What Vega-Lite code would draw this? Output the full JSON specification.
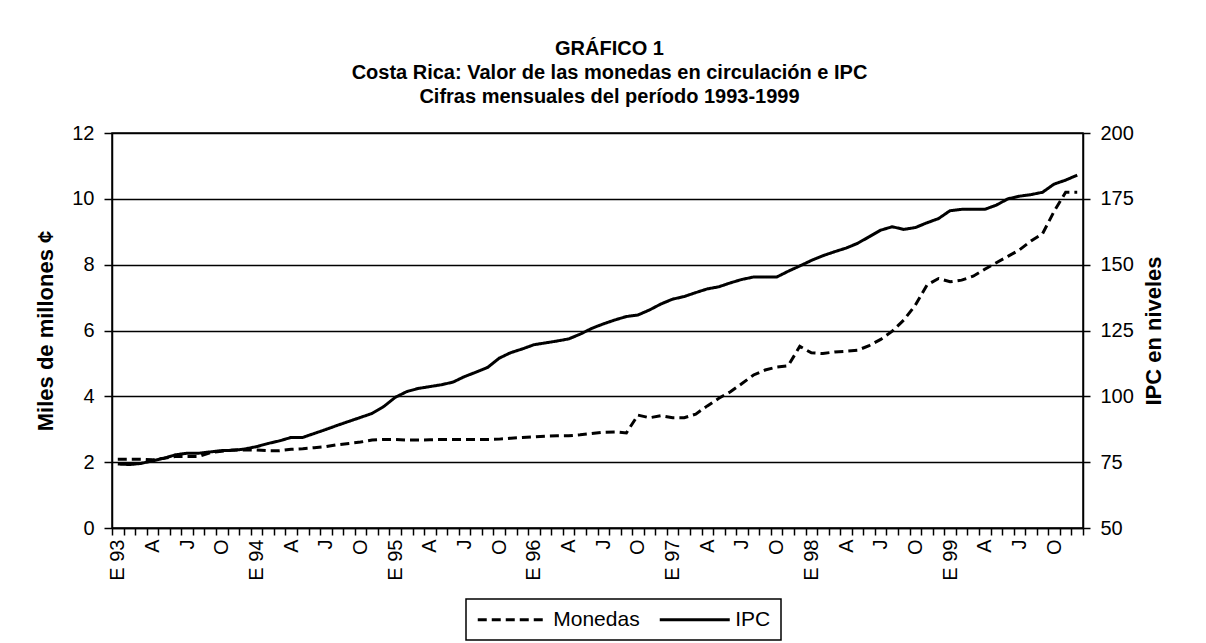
{
  "$schema": "https://vega.github.io/schema/vega-lite/v6.json",
  "autosize": {"type": "none"},
  "padding": {"left": 112, "top": 133, "right": 123, "bottom": 115},
  "width": 971,
  "height": 395,
  "background": "white",
  "title": {
    "text": ["GRÁFICO 1", "Costa Rica: Valor de las monedas en circulación e IPC", "Cifras mensuales del período 1993-1999"],
    "font": "Liberation Sans",
    "fontSize": 20,
    "fontWeight": "bold",
    "color": "black",
    "lineHeight": 24,
    "anchor": "middle",
    "dx": 12,
    "offset": 16
  },
  "data": {
    "values": [
      {"mes": "1993-01", "monedas": 2.09, "ipc": 74.3},
      {"mes": "1993-02", "monedas": 2.09, "ipc": 74.1},
      {"mes": "1993-03", "monedas": 2.09, "ipc": 74.5},
      {"mes": "1993-04", "monedas": 2.07, "ipc": 75.5},
      {"mes": "1993-05", "monedas": 2.12, "ipc": 76.5},
      {"mes": "1993-06", "monedas": 2.17, "ipc": 77.8},
      {"mes": "1993-07", "monedas": 2.17, "ipc": 78.4},
      {"mes": "1993-08", "monedas": 2.17, "ipc": 78.4},
      {"mes": "1993-09", "monedas": 2.29, "ipc": 78.9},
      {"mes": "1993-10", "monedas": 2.33, "ipc": 79.4},
      {"mes": "1993-11", "monedas": 2.37, "ipc": 79.5},
      {"mes": "1993-12", "monedas": 2.37, "ipc": 80.0},
      {"mes": "1994-01", "monedas": 2.37, "ipc": 80.9},
      {"mes": "1994-02", "monedas": 2.35, "ipc": 82.1},
      {"mes": "1994-03", "monedas": 2.35, "ipc": 83.1},
      {"mes": "1994-04", "monedas": 2.39, "ipc": 84.4},
      {"mes": "1994-05", "monedas": 2.41, "ipc": 84.4},
      {"mes": "1994-06", "monedas": 2.44, "ipc": 85.9},
      {"mes": "1994-07", "monedas": 2.47, "ipc": 87.4},
      {"mes": "1994-08", "monedas": 2.53, "ipc": 89.0},
      {"mes": "1994-09", "monedas": 2.57, "ipc": 90.5},
      {"mes": "1994-10", "monedas": 2.61, "ipc": 92.0},
      {"mes": "1994-11", "monedas": 2.67, "ipc": 93.5},
      {"mes": "1994-12", "monedas": 2.69, "ipc": 96.1},
      {"mes": "1995-01", "monedas": 2.69, "ipc": 99.6},
      {"mes": "1995-02", "monedas": 2.67, "ipc": 101.8},
      {"mes": "1995-03", "monedas": 2.67, "ipc": 103.0},
      {"mes": "1995-04", "monedas": 2.68, "ipc": 103.7},
      {"mes": "1995-05", "monedas": 2.69, "ipc": 104.4},
      {"mes": "1995-06", "monedas": 2.69, "ipc": 105.4},
      {"mes": "1995-07", "monedas": 2.69, "ipc": 107.5},
      {"mes": "1995-08", "monedas": 2.69, "ipc": 109.2},
      {"mes": "1995-09", "monedas": 2.69, "ipc": 111.0},
      {"mes": "1995-10", "monedas": 2.70, "ipc": 114.5},
      {"mes": "1995-11", "monedas": 2.73, "ipc": 116.6},
      {"mes": "1995-12", "monedas": 2.75, "ipc": 118.0},
      {"mes": "1996-01", "monedas": 2.77, "ipc": 119.6},
      {"mes": "1996-02", "monedas": 2.79, "ipc": 120.3},
      {"mes": "1996-03", "monedas": 2.80, "ipc": 121.0},
      {"mes": "1996-04", "monedas": 2.80, "ipc": 121.8},
      {"mes": "1996-05", "monedas": 2.83, "ipc": 123.6},
      {"mes": "1996-06", "monedas": 2.87, "ipc": 125.8},
      {"mes": "1996-07", "monedas": 2.91, "ipc": 127.5},
      {"mes": "1996-08", "monedas": 2.92, "ipc": 129.0},
      {"mes": "1996-09", "monedas": 2.89, "ipc": 130.3},
      {"mes": "1996-10", "monedas": 3.43, "ipc": 130.9},
      {"mes": "1996-11", "monedas": 3.35, "ipc": 132.8},
      {"mes": "1996-12", "monedas": 3.41, "ipc": 135.1},
      {"mes": "1997-01", "monedas": 3.35, "ipc": 136.9},
      {"mes": "1997-02", "monedas": 3.35, "ipc": 137.9},
      {"mes": "1997-03", "monedas": 3.46, "ipc": 139.4},
      {"mes": "1997-04", "monedas": 3.71, "ipc": 140.8},
      {"mes": "1997-05", "monedas": 3.94, "ipc": 141.6},
      {"mes": "1997-06", "monedas": 4.14, "ipc": 143.1},
      {"mes": "1997-07", "monedas": 4.39, "ipc": 144.4},
      {"mes": "1997-08", "monedas": 4.65, "ipc": 145.3},
      {"mes": "1997-09", "monedas": 4.80, "ipc": 145.3},
      {"mes": "1997-10", "monedas": 4.89, "ipc": 145.3},
      {"mes": "1997-11", "monedas": 4.93, "ipc": 147.5},
      {"mes": "1997-12", "monedas": 5.52, "ipc": 149.5},
      {"mes": "1998-01", "monedas": 5.32, "ipc": 151.6},
      {"mes": "1998-02", "monedas": 5.30, "ipc": 153.4},
      {"mes": "1998-03", "monedas": 5.35, "ipc": 154.9},
      {"mes": "1998-04", "monedas": 5.37, "ipc": 156.3},
      {"mes": "1998-05", "monedas": 5.40, "ipc": 158.1},
      {"mes": "1998-06", "monedas": 5.54, "ipc": 160.6},
      {"mes": "1998-07", "monedas": 5.73, "ipc": 163.1},
      {"mes": "1998-08", "monedas": 5.98, "ipc": 164.4},
      {"mes": "1998-09", "monedas": 6.32, "ipc": 163.4},
      {"mes": "1998-10", "monedas": 6.77, "ipc": 164.1},
      {"mes": "1998-11", "monedas": 7.38, "ipc": 165.9},
      {"mes": "1998-12", "monedas": 7.58, "ipc": 167.5},
      {"mes": "1999-01", "monedas": 7.48, "ipc": 170.5},
      {"mes": "1999-02", "monedas": 7.53, "ipc": 171.0},
      {"mes": "1999-03", "monedas": 7.65, "ipc": 171.0},
      {"mes": "1999-04", "monedas": 7.86, "ipc": 171.0},
      {"mes": "1999-05", "monedas": 8.06, "ipc": 172.6},
      {"mes": "1999-06", "monedas": 8.25, "ipc": 175.0},
      {"mes": "1999-07", "monedas": 8.45, "ipc": 176.0},
      {"mes": "1999-08", "monedas": 8.72, "ipc": 176.6},
      {"mes": "1999-09", "monedas": 8.94, "ipc": 177.5},
      {"mes": "1999-10", "monedas": 9.62, "ipc": 180.6},
      {"mes": "1999-11", "monedas": 10.2, "ipc": 182.1},
      {"mes": "1999-12", "monedas": 10.2, "ipc": 184.0}
    ]
  },
  "encoding": {
    "x": {
      "field": "mes",
      "type": "ordinal",
      "bandPosition": 0.5,
      "scale": {"type": "band", "paddingInner": 0, "paddingOuter": 0},
      "axis": {
        "title": null,
        "tickBand": "extent",
        "labelAngle": -90,
        "labelAlign": "right",
        "labelBaseline": "middle",
        "labelOverlap": false,
        "labelPadding": 4,
        "tickSize": 7,
        "labelExpr": "substring(datum.value,5,7) == '01' ? 'E ' + substring(datum.value,2,4) : substring(datum.value,5,7) == '04' ? 'A' : substring(datum.value,5,7) == '07' ? 'J' : substring(datum.value,5,7) == '10' ? 'O' : ''"
      }
    }
  },
  "layer": [
    {
      "mark": {"type": "line", "color": "black", "strokeWidth": 3},
      "encoding": {
        "y": {
          "field": "monedas",
          "type": "quantitative",
          "scale": {"domain": [0, 12]},
          "axis": {
            "title": "Miles de millones ¢",
            "values": [0, 2, 4, 6, 8, 10, 12],
            "grid": true,
            "titlePadding": 14,
            "labelPadding": 10,
            "tickSize": 8
          }
        },
        "strokeDash": {
          "datum": "Monedas",
          "scale": {"domain": ["Monedas", "IPC"], "range": [[9, 5], [1, 0]]},
          "legend": {
            "title": null,
            "orient": "none",
            "legendX": 354,
            "legendY": 466,
            "direction": "horizontal",
            "symbolType": "M-4,0H4",
            "symbolSize": 306.25,
            "symbolOffset": 26.25,
            "symbolStrokeWidth": 3,
            "symbolStrokeColor": "black",
            "symbolFillColor": "transparent",
            "labelOffset": 30,
            "columnPadding": 13,
            "padding": 10,
            "strokeColor": "black",
            "labelFontSize": 21,
            "labelFont": "Liberation Sans",
            "labelColor": "black"
          }
        }
      }
    },
    {
      "mark": {"type": "line", "color": "black", "strokeWidth": 3},
      "encoding": {
        "y": {
          "field": "ipc",
          "type": "quantitative",
          "scale": {"domain": [50, 200]},
          "axis": {
            "title": "IPC en niveles",
            "orient": "right",
            "values": [50, 75, 100, 125, 150, 175, 200],
            "grid": false,
            "titleAngle": -90,
            "titleBaseline": "top",
            "titlePadding": 10,
            "labelPadding": 10,
            "tickSize": 7
          }
        },
        "strokeDash": {"datum": "IPC"}
      }
    }
  ],
  "resolve": {"scale": {"y": "independent"}},
  "config": {
    "font": "Liberation Sans",
    "view": {"stroke": "black", "strokeWidth": 1.5},
    "legend": {"strokeWidth": 1.5},
    "axis": {
      "domainColor": "black",
      "domainWidth": 1.5,
      "tickColor": "black",
      "tickWidth": 1.5,
      "gridColor": "black",
      "gridWidth": 1.5,
      "labelColor": "black",
      "labelFont": "Liberation Sans",
      "labelFontSize": 20,
      "titleColor": "black",
      "titleFont": "Liberation Sans",
      "titleFontSize": 22,
      "titleFontWeight": "bold"
    }
  }
}
